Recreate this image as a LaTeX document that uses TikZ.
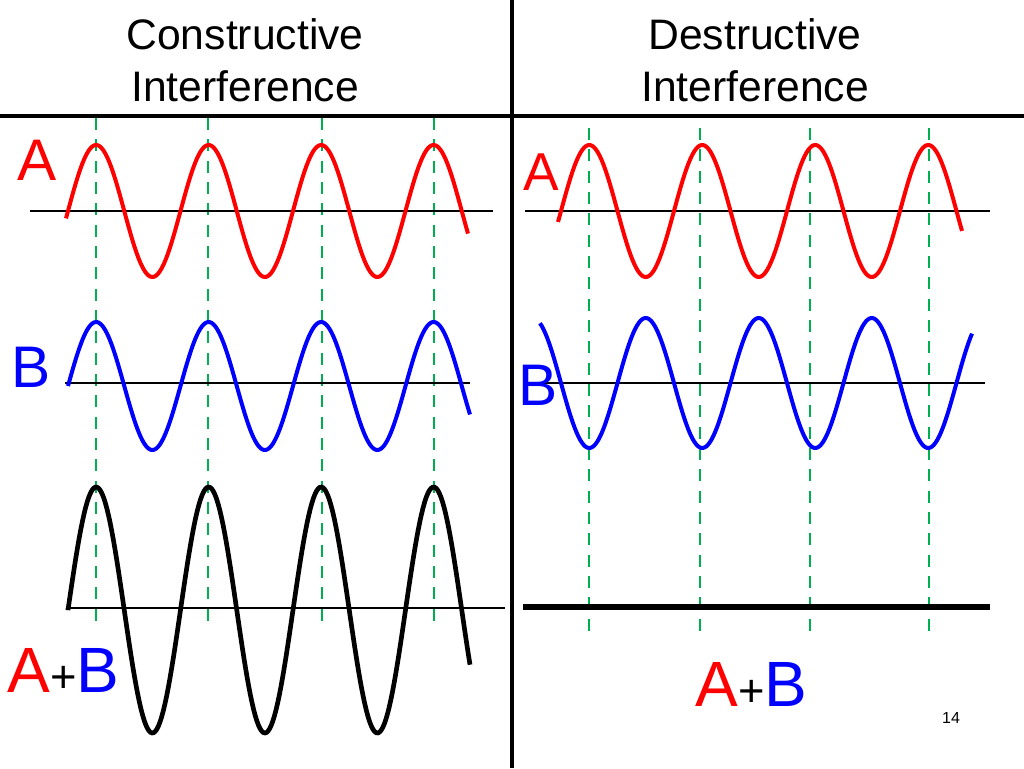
\documentclass[tikz,border=0pt]{standalone}
\usepackage{fontspec}
\setmainfont{Liberation Sans}
\definecolor{wavered}{RGB}{255,0,0}
\definecolor{waveblue}{RGB}{0,0,255}
\definecolor{guidegreen}{RGB}{0,176,80}
\tikzset{every picture/.style={line width=0.75pt}}
\tikzset{
  axisline/.style={line width=1.2pt, black},
  redwave/.style={line width=3pt, wavered},
  bluewave/.style={line width=3pt, waveblue},
  blackwave/.style={line width=3.5pt, black},
  guide/.style={line width=2pt, guidegreen, dash pattern=on 9pt off 7pt},
  heading/.style={font=\fontsize{32}{39}\selectfont, align=center, inner sep=0.75pt},
  biglabel/.style={font=\fontsize{44}{44}\selectfont, inner sep=0.75pt},
  sumlabel/.style={font=\fontsize{48}{48}\selectfont, inner sep=0.75pt, anchor=west}
}
\begin{document}
\begin{tikzpicture}[x=0.75pt,y=0.75pt,yscale=-1,xscale=1]
  \useasboundingbox (0,0) rectangle (1024,768);

  % frame lines
  \draw [line width=3pt] (0,116) -- (1024,116) ;
  \draw [line width=3pt] (512,0) -- (512,768) ;

  % headings
  \node [heading] (hcon) at (245,60) {Constructive\\Interference};
  \node [heading] (hdes) at (755,60) {Destructive\\Interference};

  % guide lines
  \foreach \gx in {96,208,322,434} {
    \draw [guide] (\gx,118) -- (\gx,625) ;
  }
  \foreach \gx in {589,700,810,929} {
    \draw [guide] (\gx,128) -- (\gx,635) ;
  }

  % axes
  \draw [axisline] (30,211) -- (493,211) ;
  \draw [axisline] (65,383) -- (470,383) ;
  \draw [axisline] (66,608) -- (505,608) ;
  \draw [axisline] (525,211) -- (990,211) ;
  \draw [axisline] (527,383) -- (985,383) ;
  \draw [line width=4.5pt] (523,607) -- (990,607) ;

  % left waves
  \draw [redwave] plot[domain=66:468, samples=250] (\x,{211-66*sin(3.2*(\x-68))}) ;
  \draw [bluewave] plot[domain=68:470, samples=250] (\x,{386-64*sin(3.2*(\x-68))}) ;
  \draw [blackwave] (68,608) -- plot[domain=68:470, samples=250] (\x,{610-123*sin(3.2*(\x-68))}) ;

  % right waves
  \draw [redwave] plot[domain=558:962, samples=250] (\x,{211-66*sin(3.186*(\x-561))}) ;
  \draw [bluewave] plot[domain=540:972, samples=250] (\x,{383+65*sin(3.186*(\x-561))}) ;

  % labels
  \node [biglabel, text=wavered] (la) at (37,160) {A};
  \node [biglabel, text=waveblue] (lb) at (31,367) {B};
  \node [sumlabel] (lab) at (6,670) {\textcolor{wavered}{A}{\fontsize{34}{34}\selectfont+}\textcolor{waveblue}{B}};
  \node [biglabel, text=wavered, font=\fontsize{40}{40}\selectfont] (ra) at (541,172) {A};
  \node [biglabel, text=waveblue] (rb) at (538,385) {B};
  \node [sumlabel] (rab) at (694,684) {\textcolor{wavered}{A}{\fontsize{34}{34}\selectfont+}\textcolor{waveblue}{B}};
  \node [font=\fontsize{12}{12}\selectfont, inner sep=0.75pt] (pg) at (951,718) {14};
\end{tikzpicture}
\end{document}
